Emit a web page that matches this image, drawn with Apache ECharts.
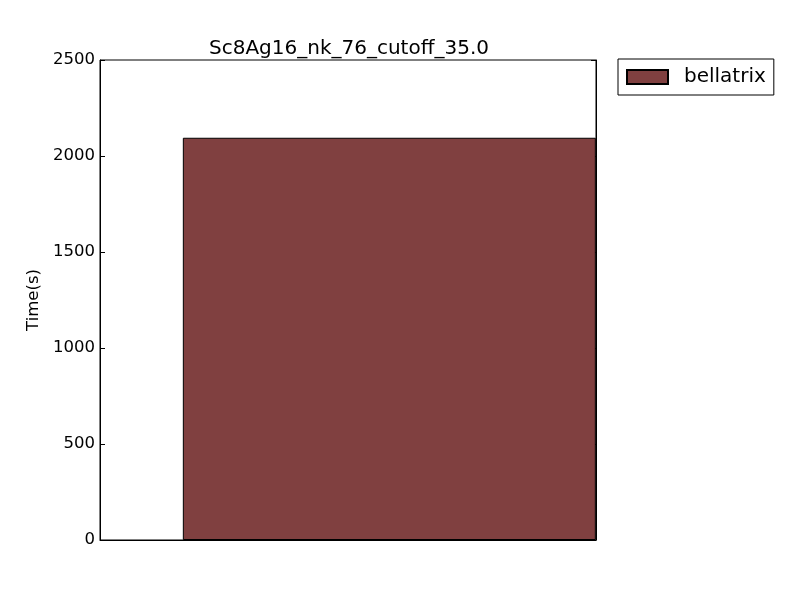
<!DOCTYPE html>
<html><head><meta charset="utf-8">
<script src="https://cdn.jsdelivr.net/npm/echarts@6/dist/echarts.min.js"></script>
<style>html,body{margin:0;padding:0;background:#fff}#c{width:800px;height:600px}</style>
</head><body><div id="c"></div>
<script>
const title = 'Sc8Ag16_nk_76_cutoff_35.0';
const seriesName = 'bellatrix';
const barPositions = [0.7];
const barValues = [2095];
const yTicks = [0, 500, 1000, 1500, 2000, 2500];

const chart = echarts.init(document.getElementById('c'));
const font = 'DejaVu Sans';
chart.setOption({
  animation: false,
  backgroundColor: '#fff',
  title: { text: title, left: 344, top: 34, textAlign: 'center',
    textStyle: { fontFamily: font, fontSize: 20, fontWeight: 'normal', color: '#000' } },
  legend: {
    left: 618, top: 59, orient: 'vertical',
    borderColor: '#000', borderWidth: 1, borderRadius: 0,
    padding: [8, 8, 8, 8],
    itemWidth: 41, itemHeight: 14,
    textStyle: { fontFamily: font, fontSize: 20, color: '#000', padding: [0, 0, 0, 11] },
    data: [{ name: seriesName, icon: 'rect' }]
  },
  grid: { left: 100, right: 204, top: 60, bottom: 60, show: true, borderColor: '#000', borderWidth: 1 },
  xAxis: { type: 'value', min: 0, max: 1.2, axisLine: { show: true, lineStyle: { color: '#000' } },
    axisTick: { show: false }, axisLabel: { show: false }, splitLine: { show: false } },
  yAxis: [
    { type: 'value', min: 0, max: 2500, interval: 500, name: 'Time(s)', nameLocation: 'middle', nameGap: 57,
      nameTextStyle: { fontFamily: font, fontSize: 16.5, color: '#000' },
      axisLine: { show: true, lineStyle: { color: '#000' } },
      axisTick: { show: true, inside: true, length: 5, lineStyle: { color: '#000' } },
      axisLabel: { fontFamily: font, fontSize: 16.5, color: '#000', margin: 5,
        formatter: v => yTicks.includes(v) ? String(v) : '' },
      splitLine: { show: false } },
    { type: 'value', min: 0, max: 2500, interval: 500, position: 'right',
      axisLine: { show: true, lineStyle: { color: '#000' } },
      axisTick: { show: true, inside: true, length: 5, lineStyle: { color: '#000' } },
      axisLabel: { show: false }, splitLine: { show: false } }
  ],
  series: [{
    name: seriesName, type: 'bar', yAxisIndex: 0,
    data: barPositions.map((x, i) => [x, barValues[i]]),
    barWidth: 413,
    itemStyle: { color: '#804040', borderColor: '#000', borderWidth: 1 }
  }]
});
</script></body></html>
